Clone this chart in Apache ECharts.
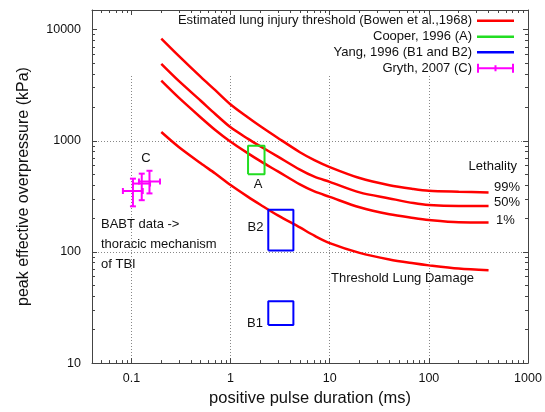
<!DOCTYPE html>
<html>
<head>
<meta charset="utf-8">
<title>Blast lung injury thresholds</title>
<script src="https://cdn.jsdelivr.net/npm/echarts@6/dist/echarts.min.js"></script>
<style>
  html, body { margin: 0; padding: 0; background: #fff; }
  #chart { width: 545px; height: 412px; }
</style>
</head>
<body>
<div id="chart"></div>
<script>
// axis ranges / ticks
const xRange = [0.04, 1000];
const yRange = [10, 15000];
const xMajor = [0.1, 1, 10, 100, 1000];
const yMajor = [10, 100, 1000, 10000];
const xGrid = [0.1, 1, 10, 100];
const yGrid = [100, 1000];

// Bowen et al. 1968 curves (pulse duration in ms, overpressure in kPa)
const bowenMs = [0.2, 0.3, 0.5, 0.7, 1, 1.5, 2, 3, 5, 7, 10, 20, 40, 70, 100, 200, 400];
const lethal99 = [8300, 5800, 3750, 2850, 2120, 1620, 1350, 1060, 789, 670, 580, 462, 398, 368, 355, 348, 343];
const lethal50 = [4910, 3450, 2290, 1740, 1320, 1040, 890, 720, 550, 475, 427, 343, 303, 275, 264, 259, 259];
const lethal1 = [3470, 2440, 1620, 1250, 980, 770, 655, 530, 405, 350, 313, 252, 218, 202, 194, 185, 184];
const thresholdLung = [1200, 880, 628, 507, 400, 313, 266, 213, 166, 140, 120, 98, 85.5, 79, 75.7, 70.8, 68.4];

// boxes: [min, max]
const cooperMs = [1.5, 2.2];
const cooperKpa = [500, 900];
const yangMs = [2.4, 4.3];
const yangB2Kpa = [103, 240];
const yangB1Kpa = [22, 36];

// Gryth 2007 points with error bars
const grythMs = [0.1035, 0.127, 0.152];
const grythKpa = [353, 412, 430];
const grythMsLo = [0.082, 0.1035, 0.119];
const grythMsHi = [0.13, 0.154, 0.194];
const grythKpaLo = [257, 292, 336];
const grythKpaHi = [456, 506, 537];

const BOWEN = 'Estimated lung injury threshold (Bowen et al.,1968)';
const COOPER = 'Cooper, 1996 (A)';
const YANG = 'Yang, 1996 (B1 and B2)';
const GRYTH = 'Gryth, 2007 (C)';

const FONT = '"Liberation Sans", Arial, sans-serif';
const FRAME = '#444';

function minorTicks(range) {
  const out = [];
  for (let d = -3; d <= 5; d++) {
    for (let k = 2; k <= 9; k++) {
      const v = Number((k * Math.pow(10, d)).toPrecision(6));
      if (v > range[0] && v < range[1]) out.push(v);
    }
  }
  return out;
}
const xMinor = minorTicks(xRange);
const yMinor = minorTicks(yRange);

function pairs(xs, ys) {
  return xs.map((x, i) => [x, ys[i]]);
}
function box(xs, ys) {
  return [[xs[0], ys[0]], [xs[1], ys[0]], [xs[1], ys[1]], [xs[0], ys[1]], [xs[0], ys[0]]];
}
const fmt = v => String(Number(Number(v).toPrecision(6)));

// one log axis; several are stacked to get major/minor ticks on all four sides
function logAxis(range, position, opts) {
  const a = {
    type: 'log',
    logBase: 10,
    position: position,
    min: range[0],
    max: range[1],
    z: 5,
    axisLine: { show: false, onZero: false, lineStyle: { color: FRAME, width: 1 } },
    axisTick: { show: false },
    axisLabel: { show: false },
    splitLine: { show: false },
    minorTick: { show: false },
    minorSplitLine: { show: false }
  };
  return Object.assign(a, opts);
}
function ticks(values, len) {
  return { show: true, inside: true, length: len, customValues: values, lineStyle: { color: FRAME, width: 1 } };
}
const gridLine = { show: true, lineStyle: { color: '#888', width: 1, type: [1, 2] } };

const xAxes = [
  logAxis(xRange, 'bottom', {
    name: 'positive pulse duration (ms)',
    nameLocation: 'middle',
    nameGap: 22,
    nameTextStyle: { fontFamily: FONT, fontSize: 16.5, color: '#111' },
    axisLine: { show: true, onZero: false, lineStyle: { color: FRAME, width: 1 } },
    axisTick: ticks(xMajor, 5),
    axisLabel: { show: true, customValues: xMajor, margin: 9, formatter: fmt, color: '#111', fontSize: 12.5, fontFamily: FONT }
  }),
  logAxis(xRange, 'bottom', { axisTick: ticks(xMinor, 3) }),
  logAxis(xRange, 'top', { axisLine: { show: true, onZero: false, lineStyle: { color: FRAME, width: 1 } }, axisTick: ticks(xMajor, 5) }),
  logAxis(xRange, 'top', { axisTick: ticks(xMinor, 3) }),
  logAxis(xRange, 'bottom', { z: 0, axisTick: { show: false, customValues: xGrid }, splitLine: gridLine })
];
const yAxes = [
  logAxis(yRange, 'left', {
    name: 'peak effective overpressure (kPa)',
    nameLocation: 'middle',
    nameGap: 60,
    nameTextStyle: { fontFamily: FONT, fontSize: 16, color: '#111' },
    axisLine: { show: true, onZero: false, lineStyle: { color: FRAME, width: 1 } },
    axisTick: ticks(yMajor, 5),
    axisLabel: { show: true, customValues: yMajor, margin: 11, formatter: fmt, color: '#111', fontSize: 12.5, fontFamily: FONT }
  }),
  logAxis(yRange, 'left', { axisTick: ticks(yMinor, 3) }),
  logAxis(yRange, 'right', { axisLine: { show: true, onZero: false, lineStyle: { color: FRAME, width: 1 } }, axisTick: ticks(yMajor, 5) }),
  logAxis(yRange, 'right', { axisTick: ticks(yMinor, 3) }),
  logAxis(yRange, 'left', { z: 0, axisTick: { show: false, customValues: yGrid }, splitLine: gridLine })
];

function curve(values) {
  return {
    name: BOWEN, type: 'line', z: 10, smooth: 0.3, showSymbol: false, silent: true,
    data: pairs(bowenMs, values),
    itemStyle: { color: '#ff0000' },
    lineStyle: { color: '#ff0000', width: 2.5 }
  };
}
function rect(name, xs, ys, color) {
  return {
    name: name, type: 'line', z: 10, showSymbol: false, silent: true,
    data: box(xs, ys),
    itemStyle: { color: color },
    lineStyle: { color: color, width: 2 }
  };
}

const errorBars = {
  name: GRYTH, type: 'custom', z: 10, silent: true,
  itemStyle: { color: '#ff00ff' },
  encode: { x: 0, y: 1 },
  data: grythMs.map((x, i) => [x, grythKpa[i], grythMsLo[i], grythMsHi[i], grythKpaLo[i], grythKpaHi[i]]),
  renderItem: function (params, api) {
    const c = api.coord([api.value(0), api.value(1)]);
    const xl = api.coord([api.value(2), api.value(1)])[0];
    const xh = api.coord([api.value(3), api.value(1)])[0];
    const yl = api.coord([api.value(0), api.value(4)])[1];
    const yh = api.coord([api.value(0), api.value(5)])[1];
    const cap = 3;
    const style = { stroke: '#ff00ff', lineWidth: 2 };
    const seg = (x1, y1, x2, y2) => ({ type: 'line', shape: { x1, y1, x2, y2 }, style: style });
    return {
      type: 'group',
      children: [
        seg(xl, c[1], xh, c[1]),
        seg(c[0], yl, c[0], yh),
        seg(xl, c[1] - cap, xl, c[1] + cap),
        seg(xh, c[1] - cap, xh, c[1] + cap),
        seg(c[0] - cap, yl, c[0] + cap, yl),
        seg(c[0] - cap, yh, c[0] + cap, yh)
      ]
    };
  }
};

// gnuplot-style key: text right-aligned, sample on the right
function legend(name, top, icon, h) {
  return {
    data: [name], right: 31, top: top, orient: 'vertical', align: 'right',
    padding: 0, selectedMode: false, icon: icon, itemWidth: 37, itemHeight: h,
    itemStyle: { borderWidth: 0 },
    textStyle: { fontFamily: FONT, fontSize: 13, color: '#111', lineHeight: 14 }
  };
}
const errIcon = 'path://M0,0H2V9H0Z M0,3.5H37V5.5H0Z M17.5,1.5H19.5V7.5H17.5Z M35,0H37V9H35Z';

function note(text, x, y, align) {
  return {
    type: 'text', z: 20, x: x, y: y,
    style: { text: text, fill: '#111', font: '13px ' + FONT, textAlign: align || 'center', textVerticalAlign: 'middle' }
  };
}

const option = {
  animation: false,
  backgroundColor: '#fff',
  grid: { left: 92, right: 17, top: 10, bottom: 45, containLabel: false },
  xAxis: xAxes,
  yAxis: yAxes,
  legend: [
    legend(BOWEN, 13.7, 'rect', 2.5),
    legend(COOPER, 29.7, 'rect', 2.5),
    legend(YANG, 45.3, 'rect', 2.5),
    legend(GRYTH, 61.3, errIcon, 9)
  ],
  graphic: [
    // key area is opaque: hides grid lines behind it
    { type: 'rect', z: 1, silent: true, shape: { x: 92.5, y: 10.5, width: 435, height: 64.5 }, style: { fill: '#fff' } },
    note('C', 146, 158),
    note('A', 258, 184),
    note('B2', 255.5, 227),
    note('B1', 255, 323),
    note('Lethality', 517, 166, 'right'),
    note('99%', 494, 187, 'left'),
    note('50%', 494, 202.5, 'left'),
    note('1%', 496, 220, 'left'),
    note('Threshold Lung Damage', 331, 278, 'left'),
    note('BABT data ->', 101, 224, 'left'),
    note('thoracic mechanism', 101, 244, 'left'),
    note('of TBI', 101, 264, 'left')
  ],
  series: [
    curve(lethal99),
    curve(lethal50),
    curve(lethal1),
    curve(thresholdLung),
    rect(COOPER, cooperMs, cooperKpa, '#22dd22'),
    rect(YANG, yangMs, yangB2Kpa, '#0000ff'),
    rect(YANG, yangMs, yangB1Kpa, '#0000ff'),
    errorBars
  ]
};

const myChart = echarts.init(document.getElementById('chart'));
myChart.setOption(option);
</script>
</body>
</html>
